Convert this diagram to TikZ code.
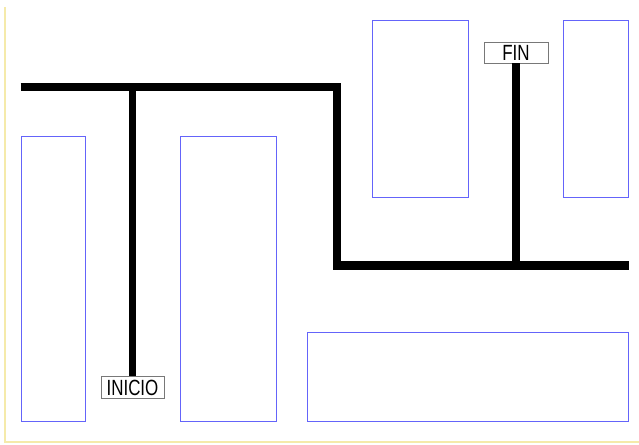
\documentclass[tikz,border=0pt]{standalone}
\usepackage{fontspec}
\setmainfont{Liberation Sans}
\definecolor{blockblue}{RGB}{100,100,250}
\definecolor{framey}{RGB}{245,234,170}
\definecolor{labelgray}{RGB}{120,120,120}
\tikzset{
  block/.style={draw=blockblue, line width=0.8pt},
  route/.style={line width=8.5pt, line join=miter, line cap=butt},
  stem/.style={line width=7.5pt, line cap=butt},
  tag/.style={draw=labelgray, fill=white, line width=0.9pt, inner sep=0pt,
    font=\fontsize{22}{22}\selectfont},
}
\begin{document}
\begin{tikzpicture}[x=1pt, y=-1pt]
  \useasboundingbox (0,0) rectangle (639,444);
  % frame along the left and bottom edges
  \draw[framey, line width=1.5pt] (5,7) -- (5,442) -- (639,442);
  % building blocks
  \draw[block] (21,136) rectangle (85,421);
  \draw[block] (180,136) rectangle (276,421);
  \draw[block] (372,20) rectangle (468,197);
  \draw[block] (563,20) rectangle (628,197);
  \draw[block] (307,332) rectangle (628,421);
  % route labels
  \node[tag, minimum width=63pt, minimum height=22pt] (inicio) at (132.5,387.5) {\scalebox{0.77}[1]{INICIO}};
  \node[tag, minimum width=64pt, minimum height=21pt] (fin) at (516,52.5) {\scalebox{0.77}[1]{FIN}};
  % main route
  \coordinate (west) at (20.5,87);
  \coordinate (bendA) at (337,87);
  \coordinate (bendB) at (337,265.5);
  \coordinate (east) at (628.5,265.5);
  \coordinate (jA) at (132.5,87);
  \coordinate (jB) at (516,265.5);
  \draw[route] (west) -- (bendA) -- (bendB) -- (east);
  \draw[stem] (jA) -- (inicio.north);
  \draw[stem] (fin.south) -- (jB);
\end{tikzpicture}
\end{document}
